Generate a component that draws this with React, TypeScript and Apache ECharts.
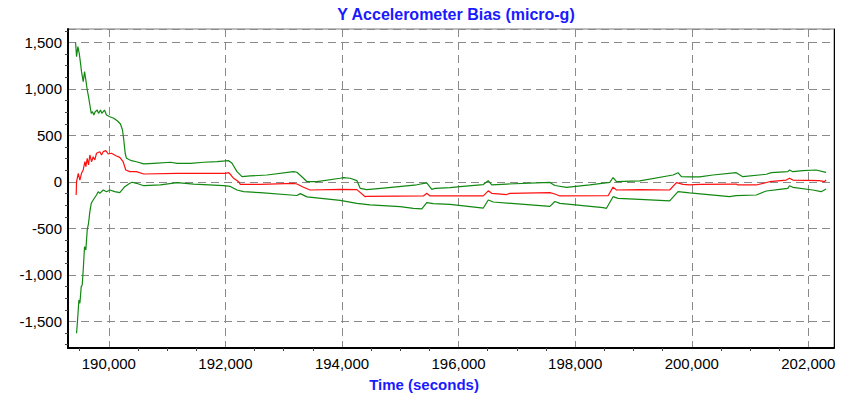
import React, { useEffect, useRef } from "react";
import * as echarts from "echarts";

// [time (s), micro-g]
const upperBound: [number, number][] = [
  [189430, 1500], [189447, 1347], [189469, 1455], [189493, 1383], [189515, 1276], [189532, 1186],
  [189561, 1078], [189584, 1186], [189606, 1096], [189630, 989], [189652, 917], [189675, 828],
  [189699, 738], [189721, 756], [189743, 720], [189767, 756], [189801, 774], [189824, 738],
  [189858, 774], [189880, 738], [189926, 774], [189961, 720], [190017, 702], [190086, 685],
  [190144, 659], [190200, 624], [190235, 559], [190257, 452], [190281, 309], [190303, 255],
  [190389, 229], [190474, 218], [190600, 194], [190771, 201], [191057, 212], [191172, 201],
  [191400, 201], [191627, 212], [191857, 218], [192056, 229], [192114, 201], [192199, 111],
  [192285, 57], [192427, 65], [192713, 75], [193169, 111], [193227, 105], [193340, 40],
  [193399, 3], [193570, 3], [193969, 40], [194026, 46], [194140, 40], [194255, 15],
  [194312, -68], [194426, -83], [194711, -65], [195283, -30], [195454, -10], [195540, -79],
  [195596, -68], [195853, -60], [196025, -50], [196424, -28], [196509, 14], [196568, -30],
  [196825, -22], [197566, -5], [197652, -38], [197852, -57], [198251, -32], [198594, -5],
  [198650, 48], [198709, 3], [199108, 12], [199678, 75], [199764, 100], [199822, 57],
  [199964, 55], [200135, 55], [200363, 75], [200763, 100], [200876, 57], [201278, 83],
  [201363, 100], [201648, 111], [201677, 129], [201734, 111], [201905, 122], [202134, 129],
  [202304, 104],
];

const estimate: [number, number][] = [
  [189440, -140], [189447, 3], [189476, 93], [189504, 21], [189532, 93], [189561, 129],
  [189590, 218], [189606, 165], [189630, 255], [189652, 183], [189675, 290], [189704, 218],
  [189732, 272], [189760, 237], [189789, 309], [189846, 326], [189875, 290], [189904, 326],
  [189949, 337], [189990, 301], [190046, 309], [190132, 280], [190188, 265], [190246, 218],
  [190291, 129], [190360, 111], [190474, 111], [190600, 86], [191172, 93], [191742, 93],
  [191999, 93], [192056, 100], [192085, 83], [192141, 40], [192227, 3], [192256, -25],
  [192599, -25], [193169, -14], [193227, -22], [193340, -57], [193455, -86], [193969, -79],
  [194255, -82], [194398, -158], [194426, -155], [195397, -150], [195454, -122], [195511, -150],
  [195853, -150], [196424, -150], [196509, -95], [196568, -122], [196825, -135], [196881, -122],
  [197566, -115], [197652, -129], [197738, -150], [198565, -148], [198650, -55], [198709, -86],
  [199108, -82], [199621, -86], [199737, -7], [199850, -25], [199964, -30], [200135, -25],
  [200763, -22], [200790, -32], [201107, -32], [201335, 3], [201621, 21], [201677, 40],
  [201734, 21], [202190, 14], [202275, 3], [202304, 21],
];

const lowerBound: [number, number][] = [
  [189447, -1627], [189464, -1484], [189487, -1268], [189504, -1304], [189527, -1125], [189544, -1107],
  [189561, -946], [189584, -695], [189606, -731], [189630, -516], [189652, -444], [189675, -319],
  [189699, -229], [189732, -194], [189789, -140], [189818, -104], [189846, -122], [189904, -86],
  [189961, -104], [190017, -86], [190103, -104], [190188, -115], [190274, -50], [190360, -14],
  [190401, -3], [190474, -14], [190600, -40], [190886, -32], [191172, -7], [191456, -22],
  [191970, -40], [192085, -48], [192199, -86], [192313, -104], [192599, -115], [193227, -145],
  [193284, -125], [193399, -160], [193969, -197], [194255, -229], [194483, -247], [194997, -265],
  [195225, -283], [195369, -290], [195454, -222], [195567, -232], [195853, -240], [196424, -280],
  [196509, -194], [196595, -215], [197566, -262], [197652, -210], [197738, -230], [198479, -275],
  [198537, -283], [198650, -158], [198736, -176], [199108, -186], [199621, -204], [199764, -104],
  [199964, -118], [200648, -158], [200763, -147], [201107, -140], [201278, -97], [201505, -79],
  [201648, -68], [201677, -40], [201734, -57], [202076, -86], [202219, -104], [202304, -75],
];

const titleText = "Y Accelerometer Bias (micro-g)";
const xName = "Time (seconds)";
const xMin = 189300;
const xMax = 202440;
const yMin = -1785;
const yMax = 1645;

const fmt = (v: number) => Math.round(v).toLocaleString("en-US");

export default function App() {
  const ref = useRef<HTMLDivElement>(null);
  useEffect(() => {
    if (!ref.current) return;
    const chart = echarts.init(ref.current, null, { renderer: "svg" });
    const font = "'Liberation Sans', Arial, Helvetica, sans-serif";
    const grid = { type: [8, 5] as number[], color: "#8a8a8a", width: 1 };
    chart.setOption({
      animation: false,
      backgroundColor: "#ffffff",
      textStyle: { fontFamily: font },
      title: {
        text: titleText,
        left: 451,
        top: 1,
        textAlign: "center",
        textStyle: { color: "#1a1aff", fontSize: 16, fontWeight: "bold", fontFamily: font },
      },
      grid: {
        left: 68,
        right: 25,
        top: 29,
        bottom: 53,
        show: true,
        borderColor: "#7a7a7a",
        borderWidth: 1,
        backgroundColor: "transparent",
      },
      xAxis: {
        type: "value",
        min: xMin,
        max: xMax,
        splitNumber: 7,
        name: xName,
        nameLocation: "middle",
        nameGap: 29,
        nameTextStyle: {
          color: "#1a1aff",
          fontSize: 15,
          fontWeight: "bold",
          fontFamily: font,
          padding: [0, 54, 0, 0],
        },
        axisLine: { show: true, onZero: false, lineStyle: { color: "#000", width: 2 } },
        axisTick: { show: false },
        minorTick: { show: true, splitNumber: 4, length: 3, lineStyle: { color: "#444" } },
        axisLabel: {
          color: "#000",
          fontSize: 15,
          margin: 8,
          showMinLabel: false,
          showMaxLabel: false,
          formatter: (v: number) => (v % 2000 === 0 ? fmt(v) : ""),
        },
        splitLine: { show: true, lineStyle: grid },
      },
      yAxis: [
        {
          type: "value",
          min: yMin,
          max: yMax,
          splitNumber: 7,
          axisLine: { show: true, onZero: false, lineStyle: { color: "#000", width: 2 } },
          axisTick: { show: false },
          minorTick: { show: true, splitNumber: 4, length: 3, lineStyle: { color: "#444" } },
          axisLabel: {
            color: "#000",
            fontSize: 15,
            margin: 6,
            showMinLabel: false,
            showMaxLabel: false,
            formatter: (v: number) => (v % 500 === 0 ? fmt(v) : ""),
          },
          splitLine: { show: true, lineStyle: grid },
        },
        {
          type: "value",
          position: "right",
          min: yMin,
          max: yMax,
          axisLine: { show: true, onZero: false, lineStyle: { color: "#000", width: 1 } },
          axisTick: { show: false },
          axisLabel: { show: false },
          splitLine: { show: false },
        },
      ],
      series: [
        {
          type: "line",
          data: upperBound,
          showSymbol: false,
          lineStyle: { color: "#118811", width: 1.2 },
          itemStyle: { color: "#118811" },
        },
        {
          type: "line",
          data: estimate,
          showSymbol: false,
          lineStyle: { color: "#ff1010", width: 1.2 },
          itemStyle: { color: "#ff1010" },
        },
        {
          type: "line",
          data: lowerBound,
          showSymbol: false,
          lineStyle: { color: "#118811", width: 1.2 },
          itemStyle: { color: "#118811" },
        },
      ],
    });
    return () => chart.dispose();
  }, []);
  return <div ref={ref} style={{ width: 859, height: 401, position: "absolute", left: 0, top: 0 }} />;
}
